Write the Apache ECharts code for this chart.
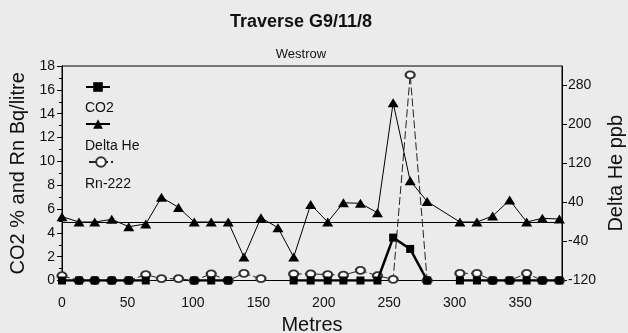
<!DOCTYPE html>
<html><head><meta charset="utf-8">
<script src="https://cdn.jsdelivr.net/npm/echarts@6/dist/echarts.min.js"></script>
<style>html,body{margin:0;padding:0;background:#ebebeb}#c{width:628px;height:333px}</style>
</head><body><div id="c"></div>
<script>
// Distance along traverse (m)
const metres = [0,13,25,38,51,64,76,89,101,114,127,139,152,165,177,190,203,215,228,241,253,266,279,291,304,317,329,342,355,367,380];
// CO2 % (left axis)
const co2 = [0,0,0,0,0,0,null,null,0,0,0,null,null,null,0,0,0,0,0,0,3.6,2.65,0,null,0,0,0,0,0,0,0];
// Delta He ppb (right axis)
const deltaHe = [11,0,0,5.5,-9.6,-4,50.6,30,0,0,0,-72,8.8,-11.7,-72,36,0,39.5,38.3,19,244.5,84.6,42,null,0,0,12.3,45,0,7.6,6.1];
// Rn-222 Bq/litre (left axis)
const rn222 = [0.4,0,0,0,0,0.5,0.15,0.15,0,0.55,0,0.6,0.15,null,0.55,0.55,0.5,0.45,0.85,0.4,0.1,17.25,0,null,0.6,0.6,0,0,0.6,0,0];

const seriesNames = ['CO2','Delta He','Rn-222'];
const titleText = 'Traverse G9/11/8';
const subTitleText = 'Westrow';
const xName = 'Metres';
const yLeftName = 'CO2 % and Rn Bq/litre';
const yRightName = 'Delta He ppb';

const FONT = '"Liberation Sans", Arial, sans-serif';
const INK = '#111';
const pairs = arr => metres.map((m, i) => [m, arr[i] == null ? null : arr[i]]);

const chart = echarts.init(document.getElementById('c'), null, {renderer: 'canvas'});

const iconLegend = (name, left, top) => ({
  data: [name], left: left, top: top, orient: 'vertical', padding: 0,
  itemWidth: 24, itemHeight: 12, formatter: () => '',
  textStyle: {fontSize: 10}, selectedMode: false
});

chart.setOption({
  animation: false,
  backgroundColor: '#ebebeb',
  textStyle: {fontFamily: FONT, color: INK},
  title: {
    text: titleText, subtext: subTitleText,
    left: 296, top: 8, textAlign: 'center', itemGap: 17,
    textStyle: {fontFamily: FONT, fontSize: 18, fontWeight: 'bold', color: INK},
    subtextStyle: {fontFamily: FONT, fontSize: 13, color: INK}
  },
  legend: [
    iconLegend(seriesNames[0], 85, 81),
    iconLegend(seriesNames[1], 85, 118),
    iconLegend(seriesNames[2], 88, 156)
  ],
  graphic: [
    {type: 'text', left: 85, top: 101, style: {text: seriesNames[0], font: '14px ' + FONT, fill: INK}},
    {type: 'text', left: 85, top: 139, style: {text: seriesNames[1], font: '14px ' + FONT, fill: INK}},
    {type: 'text', left: 85, top: 177, style: {text: seriesNames[2], font: '14px ' + FONT, fill: INK}}
  ],
  grid: {left: 62, right: 66, top: 66, bottom: 52.5, containLabel: false, outerBoundsMode: 'none',
         show: true, borderColor: '#000', borderWidth: 1, backgroundColor: 'transparent'},
  xAxis: {
    type: 'value', min: 0, max: 382, interval: 50,
    name: xName, nameLocation: 'middle', nameGap: 32,
    nameTextStyle: {fontFamily: FONT, fontSize: 20, color: INK},
    axisLine: {lineStyle: {color: '#000', width: 1}},
    axisTick: {show: false},
    axisLabel: {fontFamily: FONT, fontSize: 14, color: INK, margin: 16, showMaxLabel: false},
    splitLine: {show: false}
  },
  yAxis: [
    {
      type: 'value', min: 0, max: 18, interval: 2, position: 'left',
      name: yLeftName, nameLocation: 'middle', nameGap: 26, nameRotate: 90,
      nameTextStyle: {fontFamily: FONT, fontSize: 20, color: INK},
      axisLine: {show: true, lineStyle: {color: '#000', width: 1}},
      axisTick: {show: true, length: 5, lineStyle: {color: '#000'}},
      minorTick: {show: true, splitNumber: 2, length: 3, lineStyle: {color: '#000'}},
      axisLabel: {fontFamily: FONT, fontSize: 14, color: INK, margin: 7},
      splitLine: {show: false}
    },
    {
      type: 'value', min: -120, max: 320, interval: 80, position: 'right',
      name: yRightName, nameLocation: 'middle', nameGap: 41, nameRotate: 90,
      nameTextStyle: {fontFamily: FONT, fontSize: 20, color: INK},
      axisLine: {show: true, lineStyle: {color: '#000', width: 1}},
      axisTick: {show: true, length: 5, lineStyle: {color: '#000'}},
      axisLabel: {fontFamily: FONT, fontSize: 14, color: INK, margin: 6, showMaxLabel: false},
      splitLine: {show: false}
    }
  ],
  series: [
    {
      name: seriesNames[0], type: 'line', yAxisIndex: 0, z: 5,
      data: pairs(co2), connectNulls: false,
      symbol: 'rect', symbolSize: 8,
      itemStyle: {color: '#000'},
      lineStyle: {color: '#000', width: 2.5}
    },
    {
      name: seriesNames[1], type: 'line', yAxisIndex: 1, z: 4,
      data: pairs(deltaHe), connectNulls: true,
      symbol: 'triangle', symbolSize: [11, 9],
      itemStyle: {color: '#000'},
      lineStyle: {color: '#000', width: 1},
      markLine: {
        silent: true, symbol: 'none', label: {show: false},
        lineStyle: {color: '#000', width: 1, type: 'solid'},
        data: [{yAxis: 0}]
      }
    },
    {
      name: seriesNames[2], type: 'line', yAxisIndex: 0, z: 3,
      data: pairs(rn222), connectNulls: false,
      symbol: 'emptyCircle', symbolSize: [9, 7],
      itemStyle: {color: '#333', borderColor: '#333', borderWidth: 0.8},
      lineStyle: {color: '#222', width: 1, type: [8, 3]}
    }
  ]
});
</script></body></html>
